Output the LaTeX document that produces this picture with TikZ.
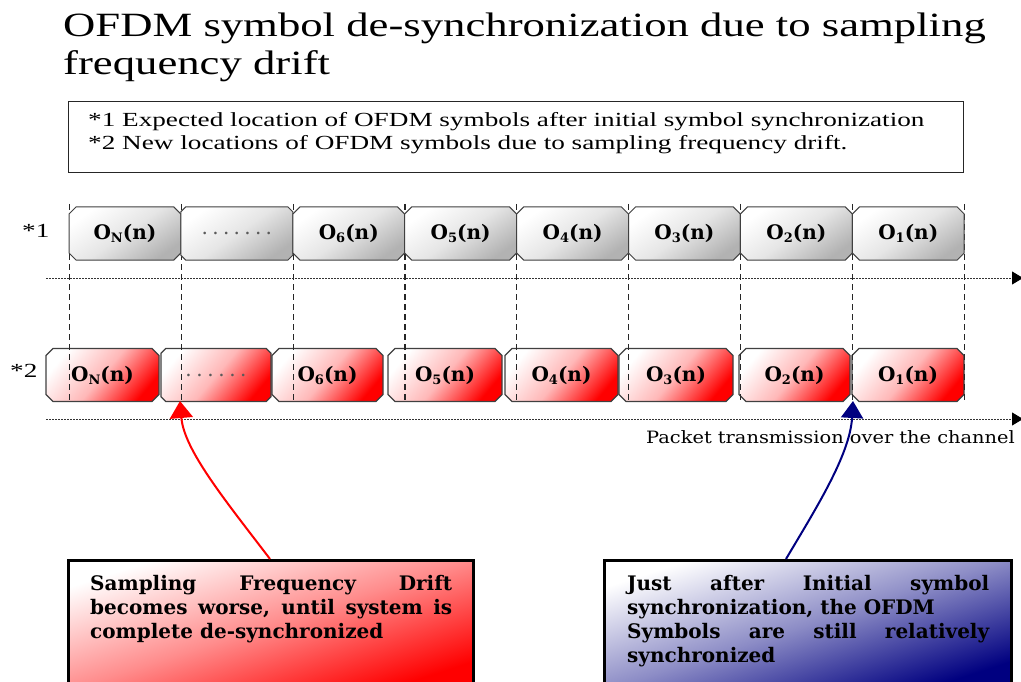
\documentclass[tikz,border=0pt]{standalone}
\usepackage{fontspec}
\setmainfont{Liberation Serif}
\newfontfamily\titlefont[FakeStretch=1.315]{Liberation Serif}
\newfontfamily\legendfont[FakeStretch=1.36]{Liberation Serif}
\newfontfamily\boxfont{DejaVu Serif}
\newfontfamily\capfont[FakeStretch=1.14]{DejaVu Serif}
\usetikzlibrary{shapes.misc,arrows.meta}
\definecolor{navyblue}{RGB}{0,0,128}
\definecolor{dotgray}{RGB}{90,90,90}
\newcommand\osym[1]{O\raisebox{-3pt}{\fontsize{13pt}{13pt}\selectfont #1}(n)}
\newcommand\symdotsA{\textcolor{dotgray}{\mdseries .\kern4.3pt.\kern4.3pt.\kern4.3pt.\kern4.3pt.\kern4.3pt.\kern4.3pt.}}
\newcommand\symdotsB{\textcolor{dotgray}{\mdseries .\kern4.6pt.\kern4.6pt.\kern4.6pt.\kern4.6pt.\kern4.6pt.}}
\newcommand\nohyph{\hyphenpenalty=10000\relax\exhyphenpenalty=10000\relax}
\begin{document}
\begin{tikzpicture}[x=1pt,y=-1pt,
  symbox/.style={chamfered rectangle, chamfered rectangle sep=3.5pt, inner sep=0pt,
    minimum height=53pt, font=\boxfont\bfseries\fontsize{20pt}{24pt}\selectfont},
  grayrow/.style={symbox, draw=black!75, line width=1pt, top color=white,
    bottom color=black!30, middle color=black!10, shading angle=35},
  redrow/.style={symbox, draw=black!75, line width=1.2pt, top color=white,
    bottom color=red, middle color=red!28, shading angle=50},
  guide/.style={draw=black!85, line width=1.1pt, dash pattern=on 6pt off 4pt},
  axisline/.style={draw=black!80, line width=0.9pt, dash pattern=on 1.5pt off 1.5pt,
    -{Triangle[length=11pt,width=13pt,black]}},
  legendtext/.style={anchor=base west, inner sep=0pt,
    font=\legendfont\fontsize{20pt}{23pt}\selectfont},
  notebox/.style={draw=black, line width=2.5pt, minimum height=128pt,
    anchor=north west, inner sep=0pt},
  rednote/.style={notebox, top color=white, bottom color=red, middle color=red!45, shading angle=18},
  bluenote/.style={notebox, top color=white, bottom color=navyblue, middle color=navyblue!45, shading angle=18},
  notetext/.style={anchor=north west, inner sep=0pt, text width=362pt, align=justify,
    font=\boxfont\bfseries\fontsize{20pt}{24pt}\selectfont}
]
\useasboundingbox (0,0) rectangle (1021,682);
\clip (0,0) rectangle (1021,682);

% title
\node[anchor=base west, inner sep=0pt, font=\titlefont\fontsize{34pt}{38pt}\selectfont]
  (title1) at (63,37) {OFDM symbol de-synchronization due to sampling};
\node[anchor=base west, inner sep=0pt, font=\titlefont\fontsize{34pt}{38pt}\selectfont]
  (title2) at (63,75) {frequency drift};

% legend
\node[draw=black!85, line width=1pt, minimum width=895pt, minimum height=71pt,
  anchor=north west, inner sep=0pt] (legend) at (68,101) {};
\node[legendtext] (leg1) at (88,127) {*1 Expected location of OFDM symbols after initial symbol synchronization};
\node[legendtext] (leg2) at (88,150) {*2 New locations of OFDM symbols due to sampling frequency drift.};

% row labels
\node[legendtext] (lab1) at (22,237) {*1};
\node[legendtext] (lab2) at (10,377) {*2};

% axes
\coordinate (ax1s) at (46,278);
\coordinate (ax1e) at (1023,278);
\coordinate (ax2s) at (46,419);
\coordinate (ax2e) at (1023,419);
\draw[axisline] (ax1s) -- (ax1e);
\draw[axisline] (ax2s) -- (ax2e);

% row 2 (drifted symbols)
\node[redrow, minimum width=113pt] (b8) at (102.5,375) {\osym{N}};
\node[redrow, minimum width=110pt] (b7) at (216,375) {\symdotsB};
\node[redrow, minimum width=111pt] (b6) at (327.5,375) {\osym{6}};
\node[redrow, minimum width=114pt] (b5) at (445,375) {\osym{5}};
\node[redrow, minimum width=113pt] (b4) at (561.5,375) {\osym{4}};
\node[redrow, minimum width=114pt] (b3) at (676,375) {\osym{3}};
\node[redrow, minimum width=111pt] (b2) at (794.5,375) {\osym{2}};
\node[redrow, minimum width=112pt] (b1) at (908,375) {\osym{1}};

% guide lines
\foreach \k in {0,...,8}{
  \draw[guide] (69.3+111.9*\k,204) -- (69.3+111.9*\k,401);
}

% row 1 (expected symbols)
\node[grayrow, minimum width=111.9pt] (a8) at (124.95,233.5) {\osym{N}};
\node[grayrow, minimum width=111.9pt] (a7) at (236.85,233.5) {\symdotsA};
\node[grayrow, minimum width=111.9pt] (a6) at (348.75,233.5) {\osym{6}};
\node[grayrow, minimum width=111.9pt] (a5) at (460.65,233.5) {\osym{5}};
\node[grayrow, minimum width=111.9pt] (a4) at (572.55,233.5) {\osym{4}};
\node[grayrow, minimum width=111.9pt] (a3) at (684.45,233.5) {\osym{3}};
\node[grayrow, minimum width=111.9pt] (a2) at (796.35,233.5) {\osym{2}};
\node[grayrow, minimum width=111.9pt] (a1) at (908.25,233.5) {\osym{1}};

% channel caption
\node[anchor=base west, inner sep=0pt, font=\capfont\fontsize{17pt}{20pt}\selectfont]
  (chan) at (646,443) {Packet transmission over the channel};

% note boxes
\node[rednote, minimum width=405pt] (lbox) at (67,559) {};
\node[notetext] (ltext) at (90,575) {\nohyph Sampling Frequency Drift\linebreak becomes worse, until system is\linebreak complete de-synchronized};
\node[bluenote, minimum width=407pt] (rbox) at (603,559) {};
\node[notetext] (rtext) at (627,575) {\nohyph Just after Initial symbol\linebreak synchronization, the OFDM\\ Symbols are still relatively\linebreak synchronized};

% pointers
\coordinate (rstart) at (270,559);
\coordinate (rtip) at (180,401);
\coordinate (bstart) at (786,559);
\coordinate (btip) at (853,401);
\draw[red, line width=2pt, -{Triangle[length=17pt,width=23pt]}]
  (rstart) .. controls (225,500) and (184,450) .. (rtip);
\draw[navyblue, line width=2pt, -{Triangle[length=17pt,width=22pt]}]
  (bstart) .. controls (815,510) and (850,455) .. (btip);
\end{tikzpicture}
\end{document}
